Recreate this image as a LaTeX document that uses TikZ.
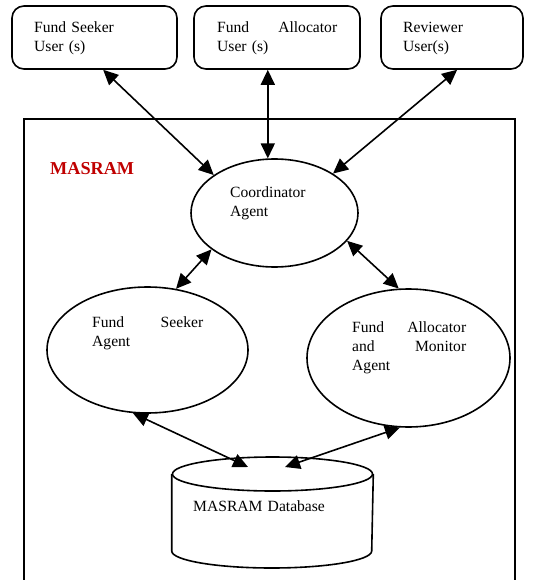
\documentclass[tikz,border=0pt]{standalone}
\usepackage{fontspec}
\setmainfont{Liberation Serif}
\usepackage{xcolor}
\usepackage{tikz}
\usetikzlibrary{shapes.geometric,arrows.meta,calc}
\definecolor{masred}{HTML}{C00000}
\tikzset{%
  usr/.style={draw, line width=1.6pt, rounded corners=12pt, inner sep=0pt, minimum height=63pt},%
  agt/.style={draw, line width=1.6pt, ellipse, inner sep=0pt},%
  txt/.style={anchor=base west, inner sep=0pt, align=left, font=\fontsize{15.6}{19}\selectfont},%
  lnk/.style={line width=1.6pt, {Triangle[length=15pt,width=14pt]}-{Triangle[length=15pt,width=14pt]}},%
}

\begin{document}
\begin{tikzpicture}[x=1pt, y=-1pt]%
\useasboundingbox (0,0) rectangle (533,580);%
\draw[line width=1.6pt] (24,580) -- (24,119) -- (515,119) -- (515,580);%
\node[usr, minimum width=165pt] (seekuser) at (94.5,37.5) {};%
\node[usr, minimum width=166pt] (allocuser) at (277,37.5) {};%
\node[usr, minimum width=142pt] (revuser) at (452,37.5) {};%
\node[txt, text width=121pt] (seekusertxt) at (34,33) {Fund Seeker\\User (s)};%
\node[txt, text width=120pt] (allocusertxt) at (217,33) {Fund\hfill Allocator\\User (s)};%
\node[txt, text width=100pt] (revusertxt) at (403,33) {Reviewer\\User(s)};%
\node[anchor=base west, inner sep=0pt, text=masred, font=\fontsize{18.2}{22}\selectfont\bfseries] (masram) at (50,174) {MASRAM};%
\node[agt, minimum width=167pt, minimum height=108pt] (coord) at (274.5,213) {};%
\node[txt, text width=100pt] (coordtxt) at (230,197) {Coordinator\\Agent};%
\node[agt, minimum width=201pt, minimum height=126pt] (seeker) at (147.5,350) {};%
\node[txt, text width=111pt] (seekertxt) at (92,327) {Fund\hfill Seeker\\Agent};%
\node[agt, minimum width=203pt, minimum height=138pt] (alloc) at (408.5,358) {};%
\node[txt, text width=114pt] (alloctxt) at (352,332) {Fund\hfill Allocator\\and\hfill Monitor\\Agent};%
\node[agt, minimum width=200pt, minimum height=34pt] (db) at (272.5,474) {};%
\draw[line width=1.6pt] (db.west) -- ++(0,77) arc[start angle=180, end angle=360, x radius=100pt, y radius=17pt] -- (db.east);%
\node[txt, text width=170pt] (dbtxt) at (193,511) {MASRAM Database};%
\draw[lnk] (seekuser.-75) -- (coord.148);%
\draw[lnk] (allocuser.south -| coord.97) -- (coord.97);%
\draw[lnk] (revuser.-81) -- (coord.34);%
\draw[lnk] (coord.210) -- (seeker.65);%
\draw[lnk] (coord.-21) -- (alloc.98);%
\draw[lnk] (seeker.257) -- ($(db.center)+(-24.5,-7)$);%
\draw[lnk] (alloc.263) -- ($(db.center)+(12.5,-7)$);%
\end{tikzpicture}
\end{document}
